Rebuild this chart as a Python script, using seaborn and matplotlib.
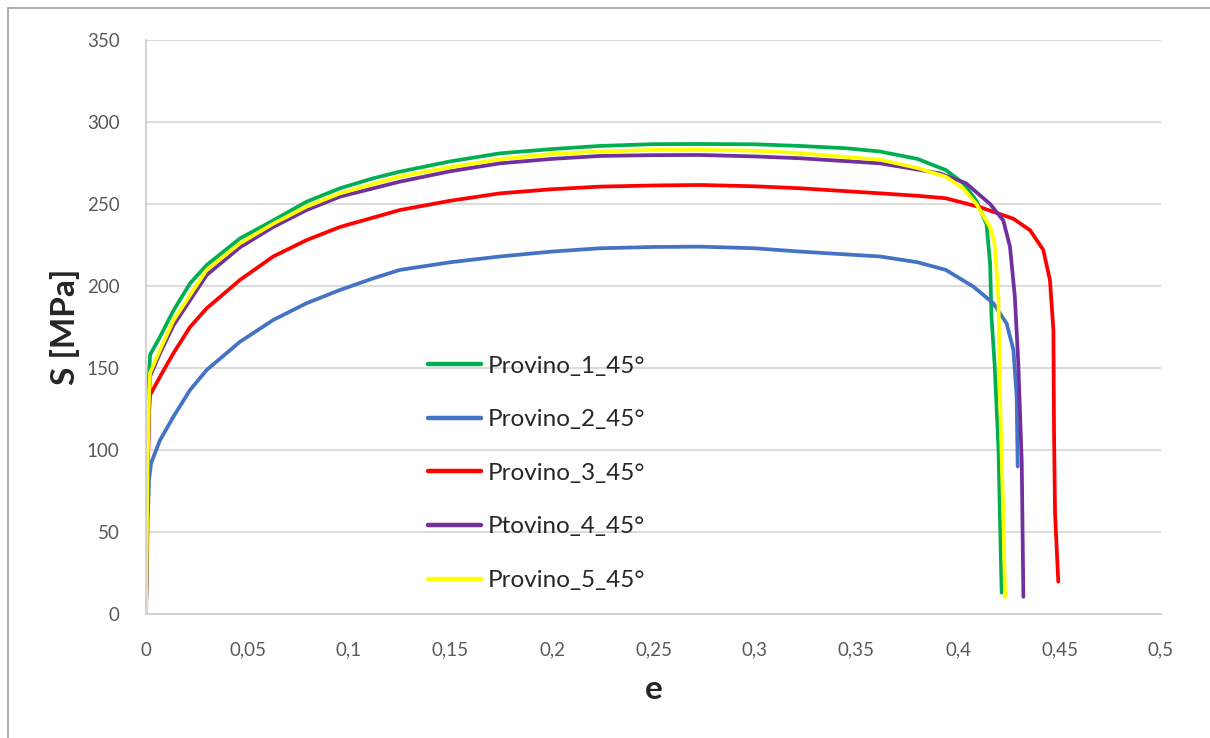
import pandas as pd
import matplotlib.pyplot as plt
import seaborn as sns
from matplotlib.lines import Line2D

# values
labels = ["Provino_1_45°", "Provino_2_45°", "Provino_3_45°", "Ptovino_4_45°", "Provino_5_45°"]
colors = ["#00B050", "#4472C4", "#FF0000", "#7030A0", "#FFFF00"]

e1 = [0, 0.0008, 0.0015, 0.002, 0.0069, 0.0135, 0.0217, 0.0299, 0.0463, 0.0627, 0.0791, 0.0956,
      0.112, 0.125, 0.15, 0.1744, 0.2, 0.2236, 0.25, 0.2729, 0.3, 0.322, 0.345, 0.3616, 0.38,
      0.394, 0.4025, 0.409, 0.414, 0.4158, 0.4165, 0.418, 0.4199, 0.4215]
s1 = [0, 100, 145, 158, 169, 185, 201.6, 212.8, 229, 240, 251.4, 259.6,
      265.7, 269.7, 276, 280.9, 283.5, 285.4, 286.5, 286.6, 286.4, 285.4, 284, 282, 277.5,
      270.7, 262.8, 252, 238, 214, 181, 153, 102, 13]

e2 = [0, 0.0008, 0.0015, 0.0025, 0.0069, 0.0135, 0.0217, 0.0299, 0.0463, 0.0627, 0.0791, 0.0956,
      0.112, 0.125, 0.15, 0.1744, 0.2, 0.2236, 0.25, 0.2729, 0.3, 0.322, 0.3616, 0.38, 0.394,
      0.4076, 0.4174, 0.424, 0.4273, 0.4289, 0.4294]
s2 = [0, 55, 82, 92, 106, 120.3, 136.6, 148.8, 166, 179.3, 189.5, 197.6,
      204.7, 209.8, 214.5, 218, 221, 223, 223.8, 224, 223, 221, 218, 214.5, 209.8,
      199.6, 189.5, 177, 161, 132.5, 90]

e3 = [0, 0.0008, 0.0015, 0.002, 0.0069, 0.0135, 0.0217, 0.0299, 0.0463, 0.0627, 0.0791, 0.0956,
      0.125, 0.15, 0.1744, 0.2, 0.2236, 0.25, 0.2729, 0.3, 0.322, 0.3616, 0.38, 0.394, 0.411,
      0.4273, 0.4355, 0.442, 0.4453, 0.447, 0.4473, 0.4478, 0.4494]
s3 = [0, 80, 122, 133.5, 144.7, 159, 175, 186.4, 203.7, 218, 228, 236,
      246.3, 252, 256.5, 259, 260.6, 261.3, 261.6, 260.8, 259.6, 256.5, 255, 253.5, 248,
      241, 234, 222, 203.6, 173, 112, 61.5, 19.7]

e4 = [0, 0.0008, 0.0015, 0.002, 0.0069, 0.0135, 0.0299, 0.0463, 0.0627, 0.0791, 0.0956, 0.125,
      0.15, 0.1744, 0.2, 0.2236, 0.25, 0.2729, 0.3, 0.322, 0.3616, 0.38, 0.391, 0.404, 0.4158,
      0.4223, 0.4256, 0.428, 0.4297, 0.4314, 0.4322]
s4 = [0, 85, 132, 145, 159, 176, 206.7, 223.6, 236, 246.3, 254.5, 263.6,
      270, 274.8, 277.5, 279.3, 279.8, 279.9, 279, 277.9, 274.8, 271, 268.7, 262.6, 250,
      240, 224, 193.5, 153, 92, 10.5]

e5 = [0, 0.0008, 0.0015, 0.002, 0.0069, 0.0135, 0.0299, 0.0463, 0.0627, 0.0791, 0.0956, 0.125,
      0.15, 0.1744, 0.2, 0.2236, 0.25, 0.2729, 0.3, 0.322, 0.3616, 0.38, 0.394, 0.4025, 0.409,
      0.4158, 0.418, 0.4199, 0.4207, 0.4223, 0.4232]
s5 = [0, 90, 135, 147, 161, 179, 209.8, 226, 238, 248.4, 256.5, 266.7,
      272.5, 277.3, 280.5, 282, 283, 283, 282.5, 281, 277, 272, 266.6, 259.6, 250,
      236, 226, 193.5, 132.5, 61.5, 10.5]

x_ticks = [0, 0.05, 0.1, 0.15, 0.2, 0.25, 0.3, 0.35, 0.4, 0.45, 0.5]
x_tick_labels = ["0", "0,05", "0,1", "0,15", "0,2", "0,25", "0,3", "0,35", "0,4", "0,45", "0,5"]
y_ticks = [0, 50, 100, 150, 200, 250, 300, 350]


def build_frame():
    parts = []
    for lab, e, s in zip(labels, [e1, e2, e3, e4, e5], [s1, s2, s3, s4, s5]):
        parts.append(pd.DataFrame({"e": e, "S": s, "serie": lab}))
    return pd.concat(parts, ignore_index=True)


def main():
    sns.set_style("white")
    plt.rcParams["font.family"] = ["Lato", "DejaVu Sans"]

    df = build_frame()
    fig = plt.figure(figsize=(12.1, 7.38), dpi=100)
    ax = fig.add_axes([146 / 1210, 1 - 614 / 738, (1161 - 146) / 1210, (614 - 40) / 738])

    sns.lineplot(data=df, x="e", y="S", hue="serie", hue_order=labels,
                 palette=dict(zip(labels, colors)), sort=False, estimator=None,
                 linewidth=2.7, ax=ax)

    ax.set_xlim(0, 0.5)
    ax.set_ylim(0, 350)
    ax.set_xticks(x_ticks)
    ax.set_xticklabels(x_tick_labels)
    ax.set_yticks(y_ticks)
    ax.tick_params(axis="both", labelsize=13.5, labelcolor="#595959", length=0)
    ax.tick_params(axis="x", pad=20)
    ax.tick_params(axis="y", pad=19)
    ax.grid(axis="y", color="#d9d9d9", linewidth=1.3)
    ax.set_axisbelow(True)
    for side in ["top", "right"]:
        ax.spines[side].set_visible(False)
    for side in ["left", "bottom"]:
        ax.spines[side].set_color("#d0d0d0")
        ax.spines[side].set_linewidth(1.3)

    ax.set_xlabel("e", fontsize=24, fontweight="bold", labelpad=12)
    ax.set_ylabel("S [MPa]", fontsize=24, fontweight="bold", labelpad=5)

    leg = ax.legend(loc="upper left", bbox_to_anchor=(0.268, 0.467), frameon=False,
                    fontsize=17.5, handlelength=2.2, handletextpad=0.25, labelspacing=1.34,
                    borderaxespad=0)
    for line in leg.get_lines():
        line.set_linewidth(3.2)

    # chart border (top and left only visible)
    fig.add_artist(Line2D([8 / 1210, 1], [1 - 8 / 738, 1 - 8 / 738], color="#a0a0a0", linewidth=1.2))
    fig.add_artist(Line2D([8 / 1210, 8 / 1210], [0, 1 - 8 / 738], color="#a0a0a0", linewidth=1.2))

    fig.savefig("out.png", dpi=100)


if __name__ == "__main__":
    main()
